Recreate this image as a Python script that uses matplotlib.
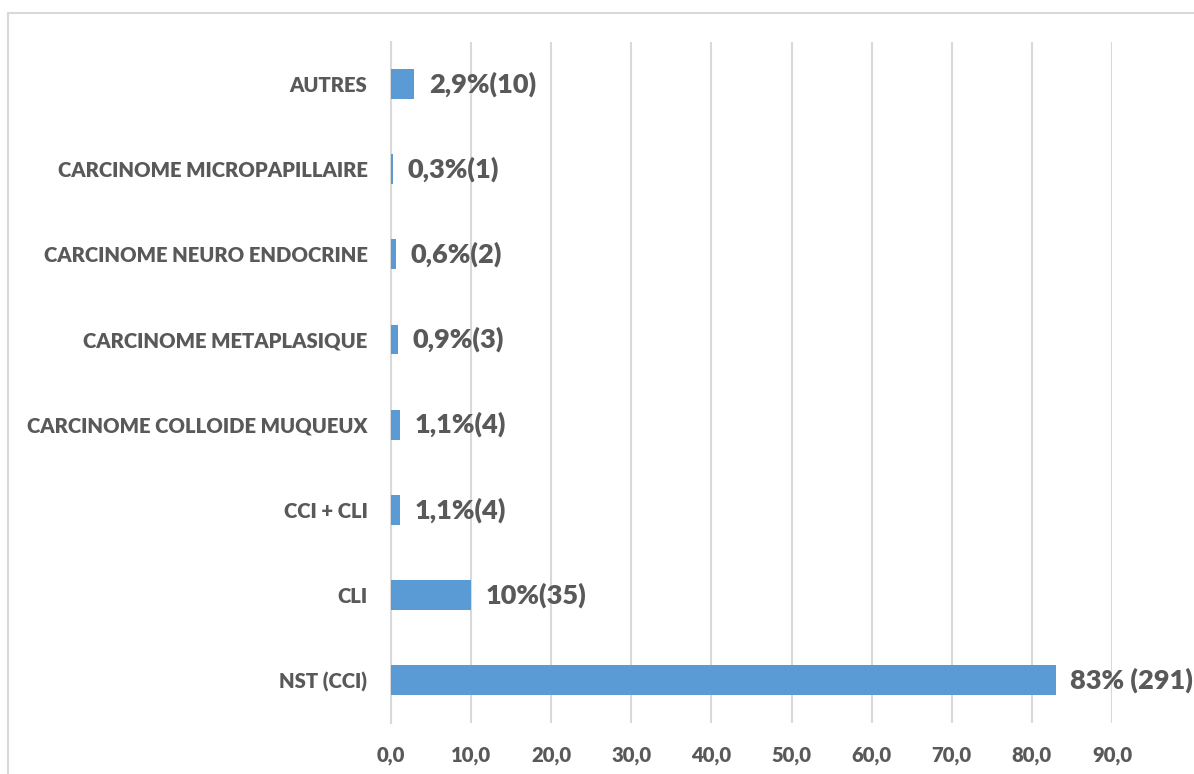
import matplotlib
matplotlib.use('Agg')
import matplotlib.pyplot as plt
from matplotlib.patches import Rectangle
from matplotlib.ticker import FuncFormatter

# histological types, bottom to top
types = ['NST (CCI)', 'CLI', 'CCI + CLI', 'CARCINOME COLLOIDE MUQUEUX',
         'CARCINOME METAPLASIQUE', 'CARCINOME NEURO ENDOCRINE',
         'CARCINOME MICROPAPILLAIRE', 'AUTRES']
pcts = [83, 10, 1.1, 1.1, 0.9, 0.6, 0.3, 2.9]
counts = [291, 35, 4, 4, 3, 2, 1, 10]
xticks = [0, 10, 20, 30, 40, 50, 60, 70, 80, 90]

BLUE = '#5B9BD5'
GREY = '#595959'
GRID = '#D9D9D9'
FONT = 'Lato'

W, H = 1194, 774
fig = plt.figure(figsize=(W / 100, H / 100), dpi=100)

# chart frame, cut off on the right and bottom
fig.patches.append(Rectangle((7.5 / W, -0.1), 1.2, 1 - 12.5 / H + 0.1,
                             transform=fig.transFigure, fill=False,
                             edgecolor=GRID, linewidth=1.5))

ax = fig.add_axes([391 / W, 1 - 722.6 / H, (1112 - 391) / W, (722.6 - 41.5) / H])
y = range(len(types))
ax.barh(y, pcts, height=0.35, color=BLUE, zorder=3)

def pct_text(p):
    s = ('%.1f' % p).replace('.', ',')
    return s[:-2] if s.endswith(',0') else s

for i, (p, n) in enumerate(zip(pcts, counts)):
    sep = ' ' if i == 0 else ''
    ax.text(p + 1.8, i, '%s%%%s(%d)' % (pct_text(p), sep, n), va='center', ha='left',
            fontsize=19.5, fontweight='heavy', color=GREY, family=FONT)

ax.set_xlim(0, 90)
ax.set_ylim(-0.5, len(types) - 0.5)
ax.set_xticks(xticks)
ax.xaxis.set_major_formatter(FuncFormatter(lambda v, _: ('%.1f' % v).replace('.', ',')))
ax.set_yticks(list(y))
ax.set_yticklabels(types)
ax.grid(axis='x', color=GRID, linewidth=1.5, zorder=0)
ax.set_axisbelow(True)
for s in ['top', 'right', 'bottom']:
    ax.spines[s].set_visible(False)
ax.spines['left'].set_color(GRID)
ax.spines['left'].set_linewidth(1.5)
ax.tick_params(axis='x', length=0, pad=17)
ax.tick_params(axis='y', length=0, pad=17)
for lab in ax.get_xticklabels() + ax.get_yticklabels():
    lab.set_fontfamily(FONT)
    lab.set_fontweight('heavy')
    lab.set_fontsize(14.6)
    lab.set_color(GREY)

fig.savefig('out.png', dpi=100)
